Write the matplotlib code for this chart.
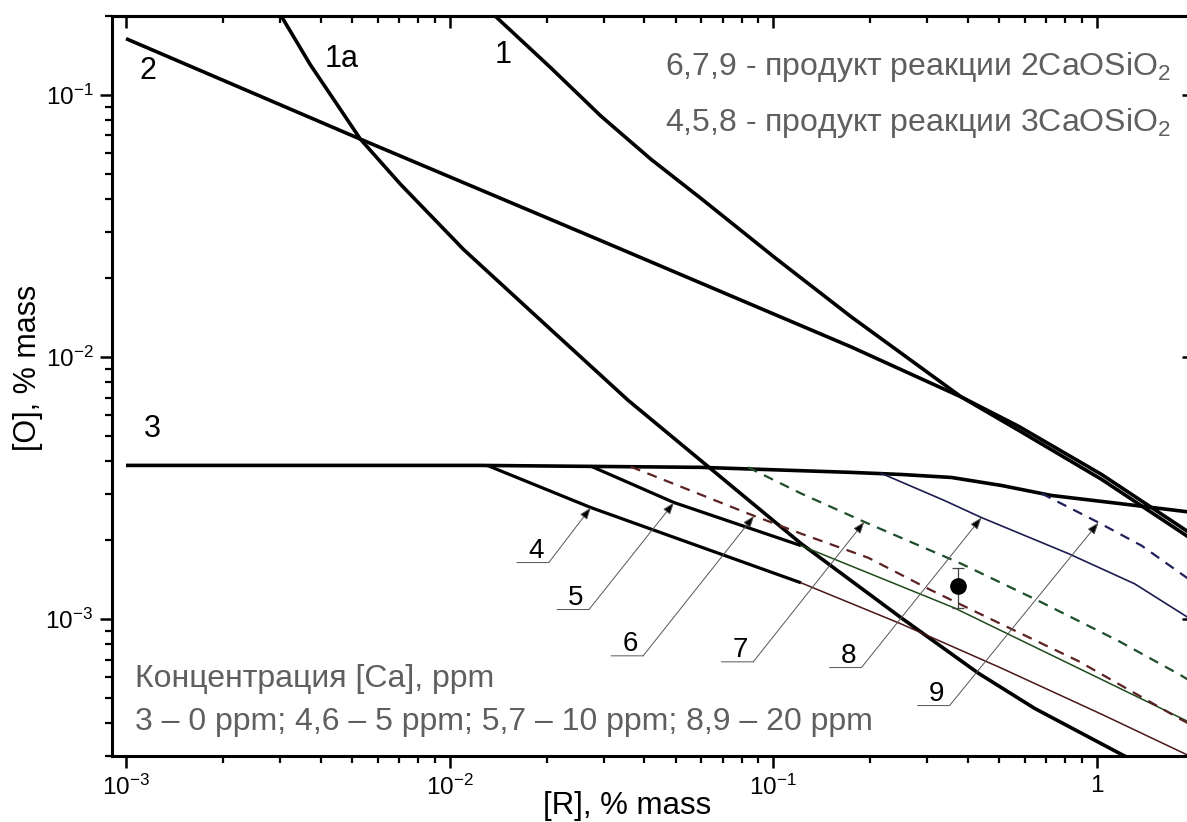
import matplotlib
matplotlib.use("Agg")
import matplotlib.pyplot as plt
import numpy as np
from matplotlib.ticker import FixedLocator, FixedFormatter, LogLocator, NullFormatter
from matplotlib.transforms import offset_copy

plt.rcParams["font.family"] = ["Liberation Sans", "DejaVu Sans"]
plt.rcParams["mathtext.fontset"] = "custom"
plt.rcParams["mathtext.rm"] = "Liberation Sans"
plt.rcParams["mathtext.it"] = "Liberation Sans:italic"
plt.rcParams["mathtext.bf"] = "Liberation Sans:bold"

# curve 1a
r_1a = [0.00268, 0.00300, 0.003713, 0.004437, 0.00530, 0.007053, 0.01105, 0.0198,
        0.0356, 0.0634, 0.122, 0.249, 0.431, 0.643, 1.195, 1.378]
o_1a = [0.25, 0.2025, 0.1303, 0.0940, 0.0678, 0.0456, 0.0257, 0.01327,
        0.00684, 0.00379, 0.00194, 0.00101, 0.000621, 0.000456, 0.000304, 0.000278]

# curve 1
r_1 = [0.01293, 0.01368, 0.02055, 0.02934, 0.04193, 0.0598, 0.1021, 0.1743,
       0.382, 0.5735, 1.036, 2.0]
o_1 = [0.2175, 0.2025, 0.1269, 0.0831, 0.0568, 0.0403, 0.02374, 0.01423,
       0.00703, 0.00525, 0.00341, 0.00199]

# curve 2
r_2 = [0.001, 0.0053, 0.02934, 0.1743, 0.382, 0.5735, 1.036, 2.0]
o_2 = [0.1639, 0.0678, 0.0278, 0.01092, 0.00703, 0.00544, 0.00356, 0.00208]

# curve 3 (0 ppm Ca)
r_3 = [0.001, 0.01247, 0.0598, 0.1743, 0.249, 0.3556, 0.508, 0.7256, 1.17, 2.0]
o_3 = [0.003855, 0.003855, 0.00379, 0.003626, 0.00356, 0.003468, 0.003232, 0.00296,
       0.00276, 0.002547]

# curves 4, 5, 8 - 3CaO*SiO2 ; curves 6, 7, 9 - 2CaO*SiO2
r_4 = [0.01311, 0.02733, 0.122, 0.249, 0.508, 1.036, 1.927]
o_4 = [0.00385, 0.002662, 0.001374, 0.000957, 0.000649, 0.000433, 0.000301]

r_5 = [0.02733, 0.0494, 0.122, 0.3634, 2.0]
o_5 = [0.00383, 0.002782, 0.001905, 0.001102, 0.000396]

r_6 = [0.03634, 0.0837, 0.122, 0.1968, 0.302, 0.463, 0.88, 1.795, 2.0]
o_6 = [0.00381, 0.002526, 0.002117, 0.001713, 0.001303, 0.001009, 0.00069, 0.000418, 0.000389]

r_7 = [0.0837, 0.122, 0.1968, 0.382, 0.643, 1.17, 1.795, 2.0]
o_7 = [0.00379, 0.003013, 0.002312, 0.001624, 0.001193, 0.000824, 0.000616, 0.000569]

r_8 = [0.216, 0.3383, 0.4406, 0.819, 1.311, 1.927, 2.0]
o_8 = [0.003594, 0.002833, 0.002438, 0.001775, 0.001362, 0.001009, 0.000966]

r_9 = [0.6757, 1.014, 1.378, 2.0]
o_9 = [0.003012, 0.002333, 0.001904, 0.001374]

# experimental point
exp_r = [0.374]
exp_o = [0.001338]
exp_err_low = [0.000236]
exp_err_high = [0.00023]

x_ticks = [0.001, 0.01, 0.1, 1]
x_tick_labels = ["10$^{-3}$", "10$^{-2}$", "10$^{-1}$", "1"]
y_ticks = [0.001, 0.01, 0.1]
y_tick_labels = ["10$^{-3}$", "10$^{-2}$", "10$^{-1}$"]

# where the leader arrows touch curves 4..9
leader_r = {"4": 0.02733, "5": 0.0494, "6": 0.0874, "7": 0.1914, "8": 0.4406, "9": 1.014}


def split_at(r, o, x_cut):
    """Split a curve into the part before x_cut and the part after it."""
    r = np.asarray(r)
    o = np.asarray(o)
    k = np.searchsorted(r, x_cut, side="right")
    return (r[:k], o[:k]), (r[k - 1:], o[k - 1:])


fig = plt.figure(figsize=(11.87, 8.22), dpi=100)
ax = fig.add_axes([112 / 1187, 66 / 822, 1082 / 1187, 740 / 822])
ax.set_xscale("log")
ax.set_yscale("log")

thick = dict(color="black", lw=2.6, solid_capstyle="butt", solid_joinstyle="round")
ax.plot(r_1a, o_1a, **thick)
ax.plot(r_1, o_1, **thick)
ax.plot(r_2, o_2, **thick)
ax.plot(r_3, o_3, **thick)

# 4 and 5 start thick, then go on as thin coloured lines
for r, o, col in [(r_4, o_4, "#4a1616"), (r_5, o_5, "#1d4a1d")]:
    head, tail = split_at(r, o, 0.122)
    ax.plot(*head, color="black", lw=2.3, solid_capstyle="butt")
    ax.plot(*tail, color=col, lw=1.1)

ax.plot(r_8, o_8, color="#1c1c50", lw=1.2)

dash = dict(lw=1.6, dashes=(4.5, 3.5))
ax.plot(r_6, o_6, color="#5a2222", **dash)
ax.plot(r_7, o_7, color="#1e4d2b", **dash)
ax.plot(r_9, o_9, color="#20205a", **dash)

ax.errorbar(exp_r, exp_o, yerr=[exp_err_low, exp_err_high], fmt="o", color="black",
            ms=11, ecolor="#444444", elinewidth=0.9, capsize=4, capthick=0.9)

ax.set_xlim(9.05e-4, 2.0)
ax.set_ylim(3e-4, 0.2)

# ticks: out on bottom/left, in on top/right
ax.xaxis.set_major_locator(FixedLocator(x_ticks))
ax.xaxis.set_major_formatter(FixedFormatter(x_tick_labels))
ax.xaxis.set_minor_locator(LogLocator(base=10, subs=np.arange(2, 10)))
ax.xaxis.set_minor_formatter(NullFormatter())
ax.yaxis.set_major_locator(FixedLocator(y_ticks))
ax.yaxis.set_major_formatter(FixedFormatter(y_tick_labels))
ax.yaxis.set_minor_locator(LogLocator(base=10, subs=np.arange(2, 10)))
ax.yaxis.set_minor_formatter(NullFormatter())
ax.tick_params(which="major", direction="out", length=8.5, width=1.8, labelsize=17.5, pad=5)
ax.tick_params(which="minor", direction="out", length=5, width=1.6)

secx = ax.secondary_xaxis("top")
secx.xaxis.set_major_locator(FixedLocator(x_ticks))
secx.xaxis.set_minor_locator(LogLocator(base=10, subs=np.arange(2, 10)))
secx.tick_params(which="major", direction="in", length=8.5, width=1.8, labeltop=False)
secx.tick_params(which="minor", direction="in", length=5, width=1.6)
secy = ax.secondary_yaxis("right")
secy.yaxis.set_major_locator(FixedLocator(y_ticks))
secy.yaxis.set_minor_locator(LogLocator(base=10, subs=np.arange(2, 10)))
secy.tick_params(which="major", direction="in", length=8.5, width=1.8, labelright=False)
secy.tick_params(which="minor", direction="in", length=5, width=1.6)
for a in (ax, secx, secy):
    for sp in a.spines.values():
        sp.set_linewidth(2.2)

ax.set_xlabel("[R], % mass", fontsize=22.5)
ax.xaxis.set_label_coords(0.476, -0.047)
ax.set_ylabel("[O], % mass", fontsize=22)
ax.yaxis.set_label_coords(-0.064, 0.524)

# curve numbers
for txt, xf, yf in [("2", 0.0333, 0.9149), ("1a", 0.2126, 0.9311),
                    ("1", 0.3614, 0.9365), ("3", 0.0370, 0.4311)]:
    ax.text(xf, yf, txt, transform=ax.transAxes, fontsize=22,
            ha="center", va="baseline")

# numbered leaders for curves 4..9
curves = {"4": (r_4, o_4), "5": (r_5, o_5), "6": (r_6, o_6),
          "7": (r_7, o_7), "8": (r_8, o_8), "9": (r_9, o_9)}
leader_offset = {"4": (-42, -55), "5": (-85, -107), "6": (-111, -140),
                 "7": (-111, -140), "8": (-120, -150), "9": (-149, -183)}
for key, xt in leader_r.items():
    r, o = curves[key]
    yt = 10 ** np.interp(np.log10(xt), np.log10(r), np.log10(o))
    dx, dy = leader_offset[key]
    tr_end = offset_copy(ax.transData, fig=fig, x=dx, y=dy, units="dots")
    tr_start = offset_copy(ax.transData, fig=fig, x=dx - 32, y=dy, units="dots")
    ax.annotate("", xy=(xt, yt), xycoords="data", xytext=(xt, yt), textcoords=tr_end,
                arrowprops=dict(arrowstyle="-|>,head_length=0.6,head_width=0.22",
                                mutation_scale=12, lw=0.7, ec="#555555", fc="black",
                                shrinkA=0, shrinkB=0))
    ax.annotate("", xy=(xt, yt), xycoords=tr_end, xytext=(xt, yt), textcoords=tr_start,
                arrowprops=dict(arrowstyle="-", lw=0.7, color="#555555",
                                shrinkA=0, shrinkB=0))
    ax.text(xt, yt, key, fontsize=20, ha="center", va="baseline",
            transform=offset_copy(ax.transData, fig=fig, x=dx - 13, y=dy + 5, units="dots"))

grey = "#5f5f5f"
ax.text(0.9787, 0.9203, "6,7,9 - продукт реакции 2CaOSiO$_{2}$", transform=ax.transAxes,
        fontsize=23, color=grey, ha="right", va="baseline")
ax.text(0.9787, 0.8446, "4,5,8 - продукт реакции 3CaOSiO$_{2}$", transform=ax.transAxes,
        fontsize=23, color=grey, ha="right", va="baseline")
ax.text(0.0213, 0.0932, "Концентрация [Ca], ppm", transform=ax.transAxes,
        fontsize=23, color=grey, ha="left", va="baseline")
ax.text(0.0213, 0.0351, "3 – 0 ppm; 4,6 – 5 ppm; 5,7 – 10 ppm; 8,9 – 20 ppm",
        transform=ax.transAxes, fontsize=23, color=grey, ha="left", va="baseline")

fig.savefig("out.png", dpi=100)
